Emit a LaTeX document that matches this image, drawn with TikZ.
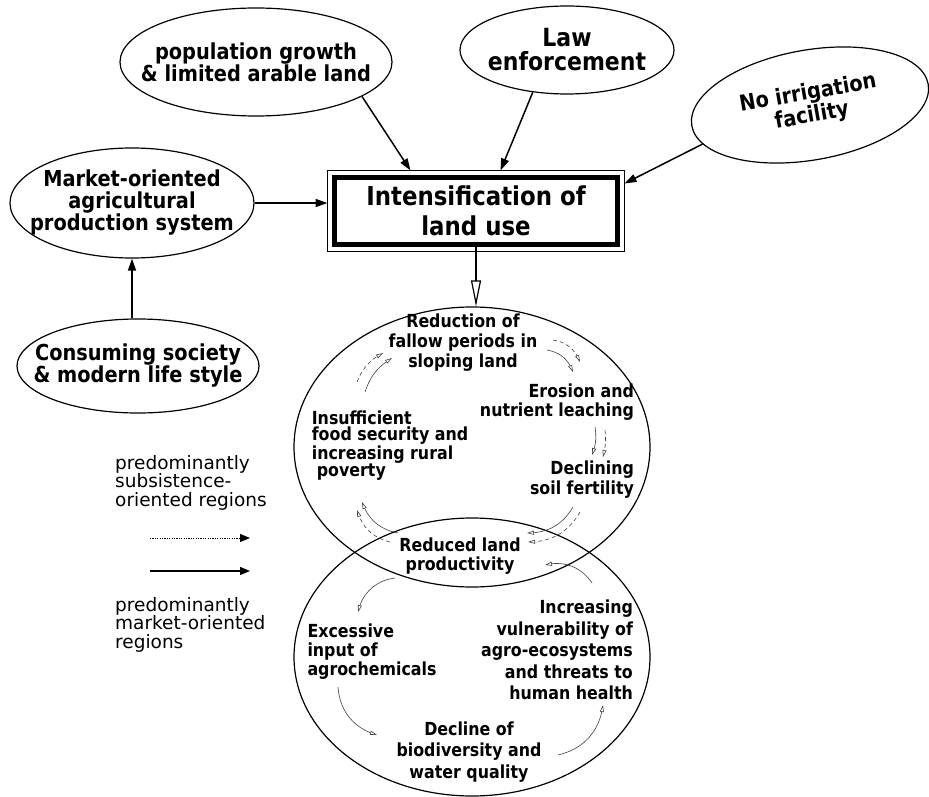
\documentclass[tikz,border=0pt]{standalone}
\usepackage{fontspec}
\setmainfont{DejaVu Sans}[FakeStretch=0.88]
\newfontfamily\legendfont{DejaVu Sans}
\usetikzlibrary{arrows.meta,shapes.geometric,bending}

\tikzset{x=1pt, y=-1pt,
    blob/.style={draw, ellipse, line width=1.2pt, inner xsep=-40pt, inner ysep=-20pt, align=center,
        font=\fontsize{22}{22}\selectfont\bfseries},
    cyc/.style={inner sep=0pt, font=\fontsize{18}{19}\selectfont\bfseries},
    legend/.style={anchor=north west, inner sep=0pt, align=left,
        font=\legendfont\fontsize{18.5}{18.5}\selectfont},
    drv/.style={line width=1.5pt, -{Triangle[length=12pt,width=8pt]}},
    subs/.style={line width=.6pt, black!75, dash pattern=on 4pt off 3pt,
        -{Triangle[open,length=7pt,width=4pt]}},
    mrkt/.style={line width=.6pt, black!75, -{Triangle[open,length=7pt,width=4pt]}}
}

\begin{document}
\begin{tikzpicture}
    \useasboundingbox (0,0) rectangle (929,797);
    % driving forces
    \node[blob, minimum width=272pt, minimum height=108pt] (pop) at (256,62) {population growth\\\& limited arable land};
    \node[blob, minimum width=214pt, minimum height=88pt, font=\fontsize{25}{24}\selectfont\bfseries] (law) at (567,50) {Law\\enforcement};
    \node[blob, rotate=10, minimum width=240pt, minimum height=110pt, font=\fontsize{22}{23}\selectfont\bfseries] (irr) at (810,105) {No irrigation\\facility};
    \node[blob, minimum width=244pt, minimum height=110pt] (mkt) at (132,203) {Market-oriented\\agricultural\\production system};
    \node[blob, minimum width=242pt, minimum height=94pt] (cons) at (138,366) {Consuming society\\\& modern life style};
    \node[draw, line width=5pt, minimum width=283pt, minimum height=67pt, outer sep=7pt, align=center,
        font=\fontsize{26}{30}\selectfont\bfseries] (box) at (476,211) {Intensification of\\land use};
    \draw[line width=1.2pt] (box.north west) rectangle (box.south east);

    \draw[drv] (pop.-18) -- ([xshift=83pt]box.north west);
    \draw[drv] (law.-129) -- ([xshift=173pt]box.north west);
    \draw[drv] (irr.190) -- ([yshift=-13pt]box.north east);
    \draw[drv] (mkt.east) -- (mkt.east -| box.west);
    \draw[drv] (cons.north -| mkt.south) -- (mkt.south);

    % the two loops
    \node[draw, ellipse, line width=1.2pt, minimum width=356pt, minimum height=280pt, inner sep=0pt] (loopS) at (472,447) {};
    \node[draw, ellipse, line width=1.2pt, minimum width=356pt, minimum height=278pt, inner sep=0pt] (loopM) at (472,657) {};
    \draw[line width=1.2pt, -{Triangle[open,length=26pt,width=10pt]}] ([yshift=7pt]box.south) -- (box.south |- loopS.north);

    \node[cyc, align=center, font=\fontsize{18}{20}\selectfont\bfseries] (red) at (463,343) {Reduction of\\fallow periods in\\sloping land};
    \node[cyc, align=right] (ero) at (557,402) {Erosion and\\nutrient leaching};
    \node[cyc, align=right, font=\fontsize{18}{20}\selectfont\bfseries] (dec) at (582,480) {Declining\\soil fertility};
    \node[cyc, align=left, font=\fontsize{18}{16}\selectfont\bfseries] (ins) at (390,446) {Insufficient\\food security and\\increasing rural\\\hspace*{5pt}poverty};
    \node[cyc, align=center] (rlp) at (460,556) {Reduced land\\productivity};
    \node[cyc, align=left] (exc) at (372,652) {Excessive\\input of\\agrochemicals};
    \node[cyc, align=right, font=\fontsize{18}{21.5}\selectfont\bfseries] (inc) at (557,650) {Increasing\\vulnerability of\\agro-ecosystems\\and threats to\\human health};
    \node[cyc, align=center, font=\fontsize{18}{21.5}\selectfont\bfseries] (dbw) at (469,752) {Decline of\\biodiversity and\\water quality};

    % subsistence loop
    \draw[mrkt] ([shift={(84,7)}]red.center) to[bend left=30] ([shift={(16,-30)}]ero.center);
    \draw[subs] ([shift={(90,-3)}]red.center) to[bend left=30] ([shift={(23,-40)}]ero.center);
    \draw[mrkt] ([shift={(38,25)}]ero.center) to[bend left=15] ([shift={(10,-25)}]dec.center);
    \draw[subs] ([shift={(48,28)}]ero.center) to[bend left=10] ([shift={(21,-23)}]dec.center);
    \draw[mrkt] ([shift={(-9,27)}]dec.center) to[bend left=30] ([shift={(67,-23)}]rlp.center);
    \draw[subs] ([shift={(-2,32)}]dec.center) to[bend left=30] ([shift={(68,-14)}]rlp.center);
    \draw[mrkt] ([shift={(-62,-23)}]rlp.center) to[bend left=30] ([shift={(-28,56)}]ins.center);
    \draw[subs] ([shift={(-70,-14)}]rlp.center) to[bend left=30] ([shift={(-33,64)}]ins.center);
    \draw[mrkt] ([shift={(-25,-54)}]ins.center) to[bend left=20] ([shift={(-71,15)}]red.center);
    \draw[subs] ([shift={(-33,-64)}]ins.center) to[bend left=20] ([shift={(-80,10)}]red.center);

    % market loop
    \draw[mrkt] ([shift={(-65,22)}]rlp.center) to[bend right=35] ([shift={(-14,-40)}]exc.center);
    \draw[mrkt] ([shift={(-34,35)}]exc.center) to[bend right=35] ([shift={(-92,-17)}]dbw.center);
    \draw[mrkt] ([shift={(89,3)}]dbw.center) to[bend right=35] ([shift={(46,55)}]inc.center);
    \draw[mrkt] ([shift={(35,-67)}]inc.center) to[bend right=35] ([shift={(85,9)}]rlp.center);

    % legend
    \node[legend] (legS) at (115,455) {predominantly\\subsistence-\\oriented regions};
    \coordinate (subA) at (150,538);
    \coordinate (subB) at (250,538);
    \draw[line width=1pt, dash pattern=on 1.2pt off 1.2pt, -{Triangle[length=10pt,width=8pt]}] (subA) -- (subB);
    \coordinate (mktA) at (150,571);
    \coordinate (mktB) at (250,571);
    \draw[line width=1.3pt, -{Triangle[length=10pt,width=8pt]}] (mktA) -- (mktB);
    \node[legend] (legM) at (115,597) {predominantly\\market-oriented\\regions};
\end{tikzpicture}
\end{document}
